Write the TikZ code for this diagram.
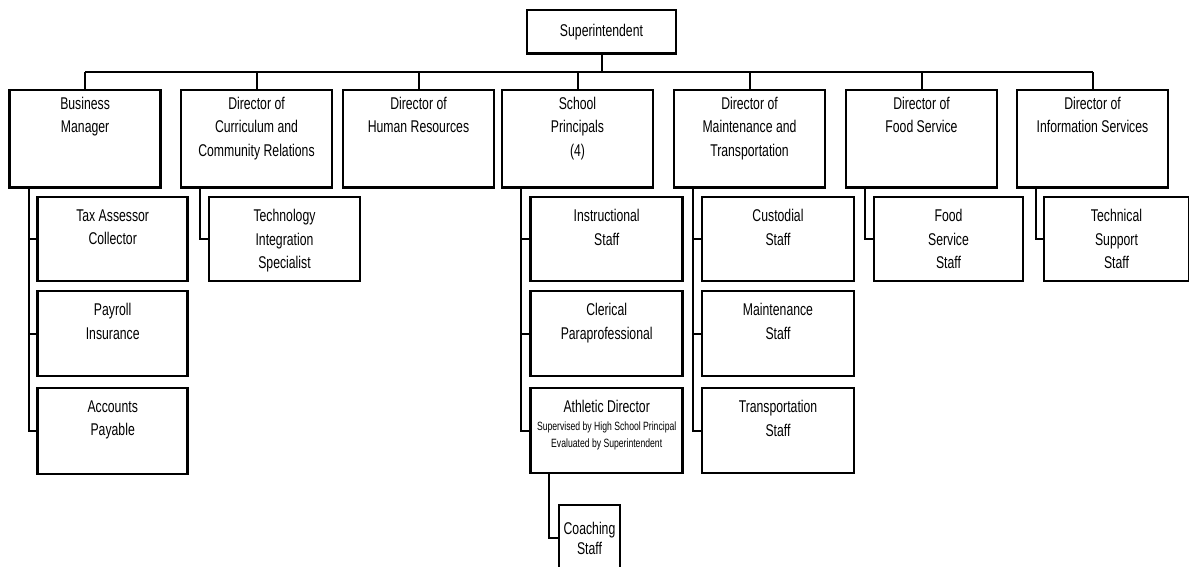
\documentclass[tikz,border=0pt]{standalone}
\usepackage{fontspec}
\setmainfont{Liberation Sans}[FakeStretch=0.72]
\newcommand\fs{\fontsize{17}{23.5}\selectfont}
\newcommand\mybox[4]{\parbox[t][#2][t]{#1}{\centering\fs\vspace*{#3}#4}}
\newcommand\tbox[1]{\mybox{151pt}{97.5pt}{7pt}{#1}}
\newcommand\cbox[3]{\mybox{#1}{#2}{12.5pt}{#3}}
\tikzset{
  bx/.style={draw, line width=2.5pt, inner sep=0pt, outer sep=0pt, anchor=north west},
  ln/.style={line width=2pt},
}
\begin{document}
\begin{tikzpicture}[x=1pt,y=-1pt]
\useasboundingbox (0,0) rectangle (1189,566);
\clip (0,0) rectangle (1189,566);
% top
\node[bx, minimum width=149pt, minimum height=43.5pt, font=\fs] (sup) at (527,10) {Superintendent};
\node[bx] (bm)  at (9.6,90)  {\tbox{Business\\Manager}};
\node[bx] (dcr) at (181,90)  {\tbox{Director of\\Curriculum and\\Community Relations}};
\node[bx] (hr)  at (343,90)  {\tbox{Director of\\Human Resources}};
\node[bx] (sp)  at (502,90)  {\tbox{School\\Principals\\(4)}};
\node[bx] (mt)  at (674,90)  {\tbox{Director of\\Maintenance and\\Transportation}};
\node[bx] (fs)  at (846,90)  {\tbox{Director of\\Food Service}};
\node[bx] (is)  at (1017,90) {\tbox{Director of\\Information Services}};
% children
\node[bx] (tax) at (37.7,197) {\cbox{150pt}{84pt}{Tax Assessor\\Collector}};
\node[bx] (pay) at (37.7,291) {\cbox{150pt}{85pt}{Payroll\\Insurance}};
\node[bx] (acc) at (37.7,388) {\cbox{150pt}{86pt}{Accounts\\Payable}};
\node[bx] (tis) at (209,197)  {\cbox{151pt}{84pt}{Technology\\Integration\\Specialist}};
\node[bx] (ins) at (530.7,197) {\cbox{152pt}{84pt}{Instructional\\Staff}};
\node[bx] (cle) at (530.7,291) {\cbox{152pt}{85pt}{Clerical\\Paraprofessional}};
\node[bx] (ath) at (530.7,388) {\cbox{152pt}{85pt}{Athletic Director\par\fontsize{12}{17.5}\selectfont Supervised by High School Principal\\Evaluated by Superintendent}};
\node[bx] (cus) at (702,197) {\cbox{152pt}{84pt}{Custodial\\Staff}};
\node[bx] (mai) at (702,291) {\cbox{152pt}{85pt}{Maintenance\\Staff}};
\node[bx] (tra) at (702,388) {\cbox{152pt}{85pt}{Transportation\\Staff}};
\node[bx] (fss) at (874,197) {\cbox{149pt}{84pt}{Food\\Service\\Staff}};
\node[bx] (tss) at (1044,197) {\cbox{145pt}{84pt}{Technical\\Support\\Staff}};
\node[bx, minimum width=61pt, minimum height=66pt, text width=61pt, align=center, font=\fontsize{17}{20}\selectfont] (coach) at (559,505) {Coaching\\Staff};
% bus
\coordinate (bus) at (0,72);
\draw[ln] (bm.north |- bus) -- (is.north |- bus);
\draw[ln] (sup.south) -- (sup.south |- bus);
\foreach \n in {bm,dcr,hr,sp,mt,fs,is} \draw[ln] (\n.north) -- (\n.north |- bus);
% drops
\coordinate (bmd) at ([xshift=19pt]bm.south west);
\coordinate (dcrd) at ([xshift=19pt]dcr.south west);
\coordinate (spd) at ([xshift=19pt]sp.south west);
\coordinate (mtd) at ([xshift=19pt]mt.south west);
\coordinate (fsd) at ([xshift=19pt]fs.south west);
\coordinate (isd) at ([xshift=19pt]is.south west);
\coordinate (athd) at ([xshift=18.5pt]ath.south west);
\foreach \c in {tax,pay,acc} \draw[ln] (bmd) |- (\c.west);
\draw[ln] (dcrd) |- (tis.west);
\foreach \c in {ins,cle,ath} \draw[ln] (spd) |- (\c.west);
\foreach \c in {cus,mai,tra} \draw[ln] (mtd) |- (\c.west);
\draw[ln] (fsd) |- (fss.west);
\draw[ln] (isd) |- (tss.west);
\draw[ln] (athd) |- (coach.west);
\end{tikzpicture}
\end{document}
